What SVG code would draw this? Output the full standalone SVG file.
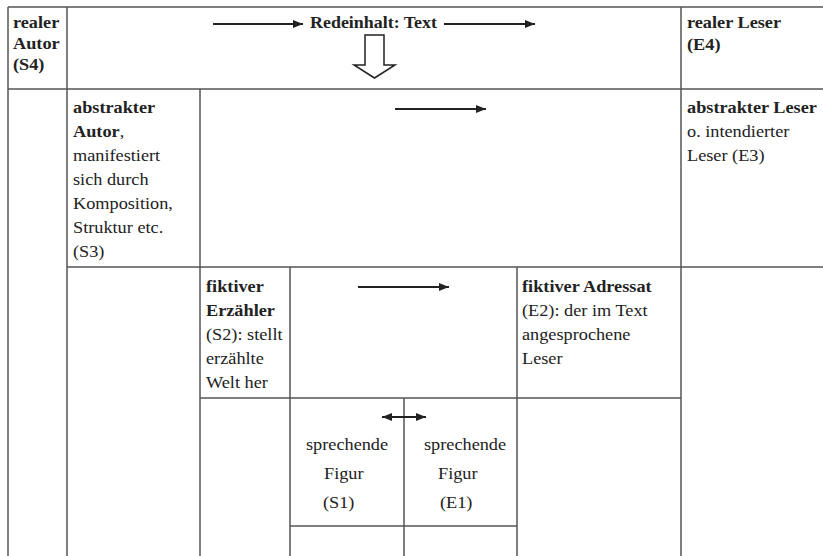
<svg xmlns="http://www.w3.org/2000/svg" width="823" height="556" viewBox="0 0 823 556">
<style>
text{font-family:'Liberation Serif','Times New Roman',Times,serif;font-size:17px;fill:#222}
.b{font-weight:bold}
.g{stroke:#555;stroke-width:1.5;fill:none}
.a{stroke:#222;stroke-width:2;fill:none}
</style>
<defs>
<marker id="ah" markerUnits="userSpaceOnUse" markerWidth="12" markerHeight="10" refX="10" refY="4" orient="auto-start-reverse">
<path d="M0,0 L10,4 L0,8 Z" fill="#222"/>
</marker>
</defs>
<rect width="823" height="556" fill="#fff"/>
<g id="grid">
<line class="g" x1="8" y1="7" x2="823" y2="7"/>
<line class="g" x1="8" y1="89" x2="823" y2="89"/>
<line class="g" x1="67" y1="267" x2="823" y2="267"/>
<line class="g" x1="200" y1="398" x2="681" y2="398"/>
<line class="g" x1="290" y1="526" x2="517" y2="526"/>
<line class="g" x1="8" y1="7" x2="8" y2="556"/>
<line class="g" x1="67" y1="7" x2="67" y2="556"/>
<line class="g" x1="200" y1="89" x2="200" y2="556"/>
<line class="g" x1="290" y1="267" x2="290" y2="556"/>
<line class="g" x1="404" y1="398" x2="404" y2="556"/>
<line class="g" x1="517" y1="267" x2="517" y2="556"/>
<line class="g" x1="681" y1="7" x2="681" y2="556"/>
</g>
<g id="realer-autor">
<text class="b" transform="translate(13 28) scale(1.075 1)">realer</text>
<text class="b" transform="translate(13 49) scale(1.075 1)">Autor</text>
<text class="b" transform="translate(13 70) scale(1.075 1)">(S4)</text>
</g>
<g id="redeinhalt">
<text class="b" transform="translate(310 28) scale(1.055 1)">Redeinhalt: Text</text>
</g>
<g id="realer-leser">
<text class="b" transform="translate(687 28) scale(1.075 1)">realer Leser</text>
<text class="b" transform="translate(687 50) scale(1.075 1)">(E4)</text>
</g>
<g id="abstrakter-autor">
<text class="b" transform="translate(73 113) scale(1.075 1)">abstrakter</text>
<text transform="translate(73 137) scale(1.075 1)"><tspan class="b">Autor</tspan>,</text>
<text transform="translate(73 161) scale(1.075 1)">manifestiert</text>
<text transform="translate(73 185) scale(1.075 1)">sich durch</text>
<text transform="translate(73 209) scale(1.075 1)">Komposition,</text>
<text transform="translate(73 233) scale(1.075 1)">Struktur etc.</text>
<text transform="translate(73 257) scale(1.075 1)">(S3)</text>
</g>
<g id="abstrakter-leser">
<text class="b" transform="translate(687 113) scale(1.075 1)">abstrakter Leser</text>
<text transform="translate(687 137) scale(1.075 1)">o. intendierter</text>
<text transform="translate(687 161) scale(1.075 1)">Leser (E3)</text>
</g>
<g id="fiktiver-erzaehler">
<text class="b" transform="translate(206 292) scale(1.075 1)">fiktiver</text>
<text class="b" transform="translate(206 316) scale(1.075 1)">Erzähler</text>
<text transform="translate(206 340) scale(1.075 1)">(S2): stellt</text>
<text transform="translate(206 364) scale(1.075 1)">erzählte</text>
<text transform="translate(206 388) scale(1.075 1)">Welt her</text>
</g>
<g id="fiktiver-adressat">
<text class="b" transform="translate(522 292) scale(1.075 1)">fiktiver Adressat</text>
<text transform="translate(522 316) scale(1.075 1)">(E2): der im Text</text>
<text transform="translate(522 340) scale(1.075 1)">angesprochene</text>
<text transform="translate(522 364) scale(1.075 1)">Leser</text>
</g>
<g id="figur-s1">
<text transform="translate(306 450) scale(1.075 1)">sprechende</text>
<text transform="translate(324 479) scale(1.075 1)">Figur</text>
<text transform="translate(323 508) scale(1.075 1)">(S1)</text>
</g>
<g id="figur-e1">
<text transform="translate(424 450) scale(1.075 1)">sprechende</text>
<text transform="translate(438 479) scale(1.075 1)">Figur</text>
<text transform="translate(440 508) scale(1.075 1)">(E1)</text>
</g>
<g id="connectors">
<line class="a" x1="213" y1="24" x2="303" y2="24" marker-end="url(#ah)"/>
<line class="a" x1="444" y1="24" x2="535" y2="24" marker-end="url(#ah)"/>
<polygon points="365,35 384,35 384,65 395,65 374.5,78 354,65 365,65" fill="#fff" stroke="#222" stroke-width="1.5"/>
<line class="a" x1="395" y1="109" x2="486" y2="109" marker-end="url(#ah)"/>
<line class="a" x1="358" y1="287" x2="449" y2="287" marker-end="url(#ah)"/>
<line class="a" x1="382" y1="417" x2="426" y2="417" marker-start="url(#ah)" marker-end="url(#ah)"/>
</g>
</svg>
